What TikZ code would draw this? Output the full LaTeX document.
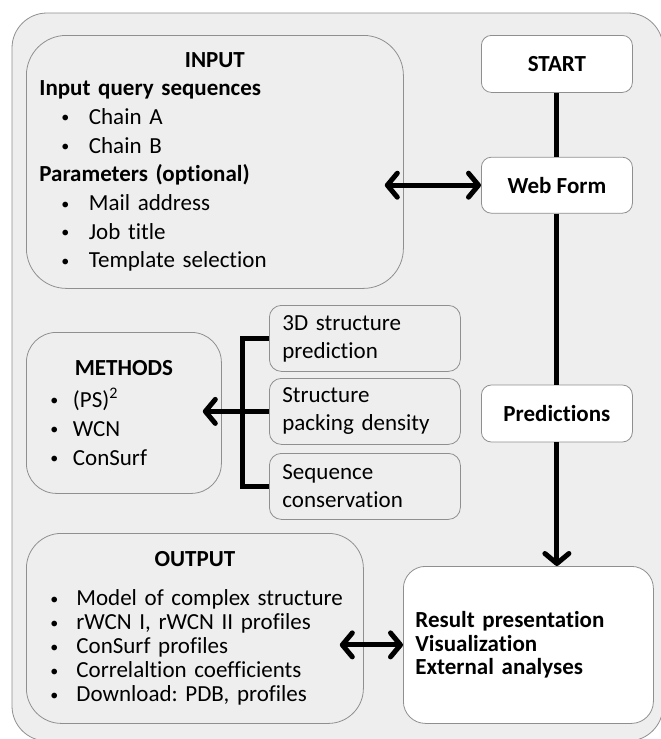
\documentclass[tikz,border=0pt]{standalone}
\usepackage{fontspec}
\setmainfont{Carlito}[Ligatures=NoCommon]
\usetikzlibrary{positioning,arrows.meta}

\definecolor{panelgray}{HTML}{EEEEEE}
\definecolor{edgegray}{HTML}{8F8F8F}

\newcommand{\bul}[2]{\hspace*{#1}\makebox[#2][l]{\raisebox{1.5pt}{\fontsize{16}{16}\selectfont\textbullet}}}
\frenchspacing

\begin{document}
\begin{tikzpicture}[x=1pt, y=-1pt,
	graybox/.style={rectangle, rounded corners=12pt, draw=edgegray, fill=panelgray, line width=0.8pt, anchor=north west, inner xsep=13pt, inner ysep=0pt, align=left, font=\fontsize{23}{28}\selectfont},
	whitebox/.style={graybox, fill=white, align=left, font=\bfseries\fontsize{23}{23.5}\selectfont},
	flowbox/.style={rectangle, rounded corners=10pt, draw=edgegray, fill=white, line width=0.8pt, minimum width=151pt, inner sep=0pt, align=center, font=\bfseries\fontsize{23}{28}\selectfont},
	thickline/.style={line width=5pt},
	bararrow/.style={line width=5pt, -{Straight Barb[length=10pt,width=24pt,round]}},
	twoway/.style={line width=5pt, {Straight Barb[length=10pt,width=24pt,round]}-{Straight Barb[length=10pt,width=24pt,round]}}
	]

	\useasboundingbox (0,0) rectangle (661,739);
	\draw [draw=edgegray, fill=panelgray, line width=0.8pt, rounded corners=35pt] (12,13) rectangle (663,741);

		\node (inputbox) [graybox, rounded corners=40pt, text width=351pt, minimum height=253pt, font=\fontsize{23}{28.7}\selectfont] at (26,35) {\makebox[351pt]{\bfseries INPUT}\\
			\textbf{Input query sequences}\\
			\bul{22pt}{27.5pt}Chain A\\
			\bul{22pt}{27.5pt}Chain B\\
			\textbf{Parameters (optional)}\\
			\bul{22pt}{27.5pt}Mail address\\
			\bul{22pt}{27.5pt}Job title\\
			\bul{22pt}{27.5pt}Template selection};

		\node (startbox) [flowbox, minimum height=57pt, anchor=north west] at (481,35) {START};
		\node (webform) [flowbox, minimum height=56pt, below=64pt of startbox] {Web Form};
		\node (predictions) [flowbox, minimum height=57pt, below=171pt of webform] {Predictions};

		\node (methods) [graybox, rounded corners=30pt, text width=169pt, minimum height=161pt, font=\fontsize{23}{29}\selectfont] at (26,332) {\makebox[169pt]{\bfseries METHODS}\\[3pt]
			\bul{11pt}{22.5pt}(PS)\textsuperscript{2}\\
			\bul{11pt}{22.5pt}WCN\\
			\bul{11pt}{22.5pt}ConSurf};

		\node (sdpred) [graybox, text width=165pt, minimum height=66pt] at (269,305) {3D structure\\prediction};
		\node (packing) [graybox, text width=165pt, minimum height=66pt] at (269,378) {Structure\\packing density};
		\node (seqcons) [graybox, text width=165pt, minimum height=66pt] at (269,453) {Sequence\\conservation};

		\node (outputbox) [graybox, rounded corners=35pt, text width=311pt, minimum height=190pt, font=\fontsize{23}{24}\selectfont] at (26,533) {\makebox[311pt]{\bfseries OUTPUT}\\[15pt]
			\bul{11pt}{26pt}Model of complex structure\\
			\bul{11pt}{26pt}rWCN I, rWCN II profiles\\
			\bul{11pt}{26pt}ConSurf profiles\\
			\bul{11pt}{26pt}Correlaltion coefficients\\
			\bul{11pt}{26pt}Download: PDB, profiles};

		\node (resultbox) [whitebox, rounded corners=22pt, inner xsep=12pt, text width=226pt, minimum height=157pt] at (403,566) {Result presentation\\Visualization\\External analyses};

	\draw [thickline] (startbox.south) -- (webform.north);
	\draw [thickline] (webform.south) -- (predictions.north);
	\draw [bararrow] (predictions.south) -- (predictions.south |- resultbox.north);

	\draw [thickline] (sdpred.west) -- ++(-27,0) |- (seqcons.west);
	\draw [bararrow, shorten >=-19pt] (packing.west) -- (methods.east |- packing.west);

	\draw [twoway, shorten <=-19pt] (inputbox.east |- webform.west) -- (webform.west);
	\draw [twoway, shorten <=-24pt] (outputbox.east |- resultbox.west) -- (resultbox.west);

\end{tikzpicture}
\end{document}
